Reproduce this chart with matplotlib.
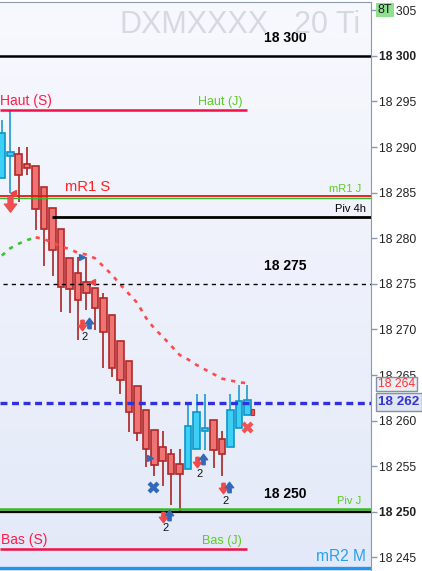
#!/usr/bin/env python3
# -*- coding: utf-8 -*-
"""
Intraday candle chart with pivot / support levels
"""
import numpy as np
import matplotlib.pyplot as plt
import matplotlib.transforms as mtransforms
from matplotlib.patches import Rectangle
from matplotlib.colors import LinearSegmentedColormap
from matplotlib.ticker import FuncFormatter

plt.rcParams['font.family'] = ['Liberation Sans', 'DejaVu Sans']
plt.rcParams['lines.scale_dashes'] = False

#%% Data
opens  = [18286.6, 18289.0, 18289.2, 18288.1, 18287.9, 18285.6, 18283.3, 18281.0, 18277.8, 18276.2,
          18275.2, 18274.5, 18273.4, 18271.6, 18268.7, 18266.5, 18263.8, 18261.2, 18259.0, 18257.1,
          18256.3, 18255.2, 18254.7, 18256.9, 18258.9, 18260.1, 18258.0, 18257.1, 18259.2, 18260.6]
closes = [18291.5, 18289.5, 18286.9, 18287.7, 18283.2, 18281.0, 18278.7, 18274.6, 18274.4, 18273.2,
          18274.0, 18272.4, 18269.7, 18265.8, 18264.4, 18260.9, 18258.6, 18256.9, 18255.1, 18255.6,
          18254.1, 18254.1, 18259.4, 18260.9, 18259.2, 18256.8, 18256.3, 18261.2, 18262.2, 18262.3]
highs  = [18293.0, 18293.9, 18290.0, 18290.0, 18287.9, 18285.6, 18283.3, 18281.0, 18277.8, 18277.9,
          18277.9, 18274.5, 18274.0, 18271.6, 18268.7, 18266.5, 18263.8, 18261.2, 18259.0, 18258.9,
          18256.9, 18256.9, 18261.8, 18262.9, 18262.9, 18260.1, 18258.9, 18262.9, 18263.9, 18263.9]
lows   = [18286.6, 18285.0, 18284.0, 18286.9, 18280.9, 18276.9, 18275.9, 18271.9, 18271.8, 18268.8,
          18272.1, 18269.9, 18265.8, 18264.8, 18262.9, 18258.8, 18257.8, 18254.9, 18253.9, 18252.8,
          18250.8, 18250.0, 18254.7, 18256.9, 18256.8, 18254.8, 18253.9, 18257.1, 18259.2, 18260.6]

# moving average (green while rising, red afterwards)
ma = [18278.1, 18278.9, 18279.4, 18279.8, 18280.1, 18279.9, 18279.5, 18279.1, 18278.8, 18278.4,
      18278.2, 18277.8, 18276.9, 18276.0, 18274.9, 18273.9, 18272.9, 18271.3, 18270.1, 18269.2,
      18268.2, 18267.2, 18266.7, 18266.1, 18265.6, 18265.1, 18264.6, 18264.4, 18264.2, 18264.1]
ma_turn = 4

# last tiny red tick
flag_x = [29.6]
flag_lo = [18260.6]
flag_hi = [18261.3]

# levels
lvl_top = 18300
haut_s = 18294.05
mr1_s = 18284.6
mr1_j = 18284.45
piv_4h = 18282.3
lvl_mid = 18275
last_px = 18261.95
piv_j = 18250.3
lvl_low = 18250
bas_s = 18245.9
mr2_m = 18243.8
ma_last = 18264

week_end = 28.95      # Haut/Bas (S) lines stop there
piv4h_start = 5.93
mid_start = 0.14

# signals
sell_x = [9.41, 23.01, 26.08, 19.00]
sell_y = [18270.5, 18255.5, 18252.6, 18249.4]
buy_x = [10.30, 23.79, 26.82, 19.78]
buy_y = [18270.7, 18255.8, 18252.75, 18249.65]
cnt_x = [9.82, 23.40, 26.43, 19.30]
cnt_y = [18269.2, 18254.2, 18251.2, 18248.2]
cnt_txt = ['2', '2', '2', '2']
big_sell = (0.97, 18283.75)
red_tri_x = [1.38, 10.65]
red_tri_y = [18285.0, 18275.2]
blue_tri_x = [9.47, 17.44]
blue_tri_y = [18277.95, 18255.9]
blue_cross = (17.89, 18252.7)
red_cross = (28.91, 18259.3)

yticks = list(range(18245, 18306, 5))

#%% Figure
W, H = 422, 571
fig = plt.figure(figsize=(W / 100, H / 100), dpi=100)
fig.patch.set_facecolor('white')
ax = fig.add_axes([0, 0, 371 / W, 569 / H])

grad = np.linspace(0, 1, 256)[:, None]
bg = LinearSegmentedColormap.from_list('bg', ['#f8f9fe', '#e3e9f8'])
ax.imshow(grad, extent=[0, 1, 0, 1], transform=ax.transAxes, cmap=bg,
          aspect='auto', zorder=0)

xlim = (-0.2125, 43.59)
ylim = (18243.51, 18305.9)

x = np.arange(len(opens))
o = np.array(opens); c = np.array(closes)
up = c >= o
body_fc = np.where(up, '#3cd0f6', '#ee7474')
body_ec = np.where(up, '#0f95c8', '#b12828')
wick_c = np.where(up, '#1a9bd0', '#a82424')

ax.vlines(x, lows, highs, colors=wick_c, lw=1.2, zorder=3)
ax.bar(x, np.maximum(np.abs(c - o), 0.2), bottom=np.minimum(o, c), width=0.77,
       color=body_fc, edgecolor=body_ec, linewidth=1.2, zorder=4)
ax.bar(flag_x, np.array(flag_hi) - np.array(flag_lo), bottom=flag_lo, width=0.3,
       color='#ee5555', edgecolor='#c03030', linewidth=0.8, zorder=4)

# moving average
ax.plot(x[:ma_turn + 1], ma[:ma_turn + 1], color='#3cc43c', lw=1.9,
        dashes=(3, 4.2), zorder=5)
ax.plot(x[ma_turn:], ma[ma_turn:], color='#ff4a4a', lw=1.9,
        dashes=(3, 4.2), zorder=5)

# horizontal levels
ax.axhline(lvl_top, color='black', lw=1.8, zorder=6)
ax.hlines(haut_s, xlim[0], week_end, color='#f0104a', lw=1.8, zorder=6)
ax.axhline(mr1_j, color='#33bb33', lw=1.0, zorder=6)
ax.axhline(mr1_s, color='#ee1111', lw=1.3, zorder=6)
ax.hlines(piv_4h, piv4h_start, xlim[1], color='black', lw=2.0, zorder=6)
ax.hlines(lvl_mid, mid_start, xlim[1], color='black', lw=1.0,
          linestyles=[(0, (3, 3))], zorder=6)
ax.axhline(last_px, color='#3030dd', lw=2.4, dashes=(5, 3.3), zorder=6)
ax.axhline(piv_j, color='#33bb22', lw=1.8, zorder=6)
ax.axhline(lvl_low, color='black', lw=1.6, zorder=6)
ax.hlines(bas_s, xlim[0], week_end, color='#f0104a', lw=1.8, zorder=6)
ax.axhline(mr2_m, color='#2196ee', lw=2.4, zorder=6)

# signal markers
down_arrow = [(-0.32, 1), (0.32, 1), (0.32, 0.05), (0.8, 0.05), (0, -1),
              (-0.8, 0.05), (-0.32, 0.05), (-0.32, 1)]
up_arrow = [(px, -py) for px, py in down_arrow]
ax.plot(sell_x, sell_y, ls='none', marker=down_arrow, ms=7.5, color='#ee4a4a', zorder=8)
ax.plot(buy_x, buy_y, ls='none', marker=up_arrow, ms=7.5, color='#3468b8', zorder=8)
for tx, ty, t in zip(cnt_x, cnt_y, cnt_txt):
    ax.text(tx, ty, t, fontsize=8, ha='center', va='center', color='#111', zorder=8)
ax.plot(*big_sell, ls='none', marker=down_arrow, ms=11, color='#ee5050', zorder=8)
ax.plot(red_tri_x, red_tri_y, ls='none', marker='<', ms=4.5, color='#ee4444', zorder=8)
ax.plot(blue_tri_x, blue_tri_y, ls='none', marker='>', ms=4.5, color='#3468b8', zorder=8)
ax.plot(*blue_cross, ls='none', marker='X', ms=8.5, color='#3468b8', mec='none', zorder=8)
ax.plot(*red_cross, ls='none', marker='X', ms=8.5, color='#ee5555', mec='none', zorder=8)

# level labels
yt = ax.get_yaxis_transform()
def axx(px):
    return px / 371

ax.text(axx(0), haut_s + 0.25, 'Haut (S)', color='#ff1a4a', fontsize=10,
        ha='left', va='bottom', transform=yt, zorder=9)
ax.text(axx(242), haut_s + 0.25, 'Haut (J)', color='#5ccc22', fontsize=9,
        ha='right', va='bottom', transform=yt, zorder=9)
ax.text(axx(65), mr1_s + 0.3, 'mR1 S', color='#ff2020', fontsize=10.6,
        ha='left', va='bottom', transform=yt, zorder=9)
ax.text(axx(361), mr1_s + 0.3, 'mR1 J', color='#5ccc22', fontsize=8,
        ha='right', va='bottom', transform=yt, zorder=9)
ax.text(axx(366), piv_4h + 0.3, 'Piv 4h', color='black', fontsize=8,
        ha='right', va='bottom', transform=yt, zorder=9)
ax.text(axx(361), piv_j + 0.3, 'Piv J', color='#5ccc22', fontsize=8,
        ha='right', va='bottom', transform=yt, zorder=9)
ax.text(axx(1), bas_s + 0.25, 'Bas (S)', color='#ff1a4a', fontsize=10,
        ha='left', va='bottom', transform=yt, zorder=9)
ax.text(axx(242), bas_s + 0.25, 'Bas (J)', color='#5ccc22', fontsize=9,
        ha='right', va='bottom', transform=yt, zorder=9)
ax.text(axx(366), mr2_m + 0.45, 'mR2 M', color='#2a9ff0', fontsize=11.2,
        ha='right', va='bottom', transform=yt, zorder=9)
for lv in (lvl_top, lvl_mid, lvl_low):
    ax.text(axx(285), lv + 2.0, f'{lv // 1000} {lv % 1000:03d}', fontsize=10,
            fontweight='bold', ha='center', va='center', transform=yt, zorder=9)

# watermark
fig.text(119 / W, 1 - 33 / H, 'DXMXXXX', fontsize=22, color='#d5d9e2',
         ha='left', va='baseline')
fig.text(360 / W, 1 - 33 / H, '20 Ti', fontsize=22, color='#d5d9e2',
         ha='right', va='baseline')

ax.set_xlim(*xlim)
ax.set_ylim(*ylim)
ax.set_xticks([])
ax.yaxis.tick_right()
ax.set_yticks(yticks)
ax.yaxis.set_major_formatter(FuncFormatter(lambda v, p: f'{int(v) // 1000} {int(v) % 1000:03d}'))
ax.tick_params(axis='y', direction='out', length=4, width=1, colors='#8a99ad',
               labelcolor='#222222', labelsize=8.7, pad=2)
for lab, v in zip(ax.get_yticklabels(), yticks):
    if v in (lvl_top, lvl_low):
        lab.set_fontweight('bold')
for s in ('left', 'bottom'):
    ax.spines[s].set_visible(False)
for s in ('right', 'top'):
    ax.spines[s].set_color('#8a99ad')

# price boxes on the scale
bt = mtransforms.blended_transform_factory(fig.transFigure, ax.transData)
fig.add_artist(Rectangle((376 / W, 18304.25), 18 / W, 1.54, transform=bt,
                         fc='#8fe08f', ec='none', zorder=10))
fig.text(385 / W, 18305.0, '8T', transform=bt, fontsize=9, color='#1a1a1a',
         ha='center', va='center', zorder=11)
fig.add_artist(Rectangle((376 / W, ma_last - 0.77), 41 / W, 1.54, transform=bt,
                         fc='#eceff4', ec='#8192a6', lw=1, zorder=10))
fig.text(396.5 / W, ma_last, f'{ma_last // 1000} {ma_last % 1000:03d}', transform=bt,
         fontsize=8.7, color='#ff3333', ha='center', va='center', zorder=11)
fig.add_artist(Rectangle((376 / W, 18262 - 0.98), 46 / W, 1.96, transform=bt,
                         fc='#dfe5f1', ec='#8192a6', lw=1, zorder=10))
fig.text(399 / W, 18262, '18 262', transform=bt, fontsize=9.7, fontweight='bold',
         color='#3535d0', ha='center', va='center', zorder=11)

fig.savefig('out.png', dpi=100)
